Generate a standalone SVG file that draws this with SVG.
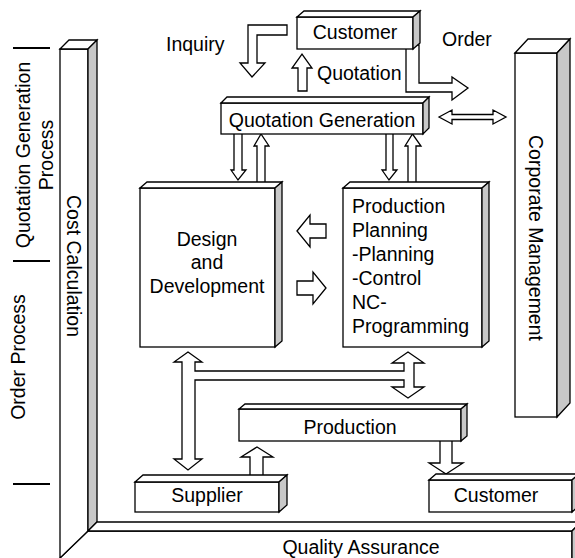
<svg xmlns="http://www.w3.org/2000/svg" width="575" height="558" viewBox="0 0 575 558">
<style>
.f{fill:#fff;stroke:#000;stroke-width:1.3;stroke-linejoin:miter}
.s{fill:#c8c8c8;stroke:#000;stroke-width:1.3;stroke-linejoin:miter}
.a{fill:#fff;stroke:#000;stroke-width:1.3;stroke-linejoin:miter}
.t{font-family:"Liberation Sans",Arial,sans-serif;font-size:19.5px;fill:#000}
.m{text-anchor:middle}
.k{stroke:#000;stroke-width:2}
</style>
<rect width="575" height="558" fill="#fff"/>
<g id="frame">
<polygon class="f" points="60,558 88,531 572,531 572,566 60,566"/>
<polygon class="f" points="60,49 88,49 88,531 60,558"/>
<polygon class="f" points="60,49 69,40 97,40 88,49"/>
<polygon class="s" points="88,49 97,40 97,522 88,531"/>
<polygon class="f" points="88,531 97,522 581,522 572,531"/>
<polygon class="s" points="572,531 581,522 581,566 572,566"/>
<text class="t m" transform="translate(67,266) rotate(90)">Cost Calculation</text>
<text class="t m" x="361" y="554">Quality Assurance</text>
</g>
<g id="labels">
<line class="k" x1="13" y1="48" x2="50" y2="48"/>
<line class="k" x1="13" y1="261" x2="50" y2="261"/>
<line class="k" x1="13" y1="484" x2="50" y2="484"/>
<text class="t m" transform="translate(30,155) rotate(-90)">Quotation Generation</text>
<text class="t m" transform="translate(53,155) rotate(-90)">Process</text>
<text class="t m" transform="translate(25,357) rotate(-90)">Order Process</text>
</g>
<g id="connectors">
<polygon class="a" points="287,25 248,25 248,63 240,63 252,77 265,63 257,63 257,35 287,35"/>
<polygon class="a" points="298,91 298,68 292,68 302,54 312,68 307,68 307,91"/>
<polygon class="a" points="406,45 406,92 452,92 452,100 468,88 452,77 452,83 419,83 419,45"/>
<polygon class="a" points="439,117 452,110 452,114.5 493,114.5 493,110 506,117 493,124 493,119.5 452,119.5 452,124"/>
<polygon class="a" points="234,130 234,170 231,170 238,180 246,170 242,170 242,130"/>
<polygon class="a" points="257,188 257,146 254,146 261,134 269,146 265,146 265,188"/>
<polygon class="a" points="386,130 386,170 382,170 389,180 397,170 393,170 393,130"/>
<polygon class="a" points="408,188 408,146 405,146 412.5,134 421,146 416,146 416,188"/>
<polygon class="a" points="297,231 310,215 310,224 326,224 326,238 310,238 310,247"/>
<polygon class="a" points="297,281 313,281 313,272 326,288 313,304 313,295 297,295"/>
<polygon class="a" points="188,352 202,362 195,362 195,371 404,371 404,363 392,363 408,352 424,363 414,363 414,387 424,387 408,398 392,387 404,387 404,380 195,380 195,459 202,459 188,470 174,459 182,459 182,362 174,362"/>
<polygon class="a" points="250,480 250,457 241,457 257,447 273,457 263,457 263,480"/>
<polygon class="a" points="440,436 440,463 429,463 446,474 463,463 452,463 452,436"/>
<text class="t" x="166" y="51">Inquiry</text>
<text class="t" x="317" y="80">Quotation</text>
<text class="t" x="442" y="46">Order</text>
</g>
<g id="customer-top">
<rect class="f" x="297" y="17" width="116" height="32"/>
<polygon class="f" points="297,17 304,11 420,11 413,17"/>
<polygon class="s" points="413,17 420,11 420,43 413,49"/>
<text class="t m" x="355" y="39">Customer</text>
</g>
<g id="quotation-generation">
<rect class="f" x="221" y="103" width="202" height="31"/>
<polygon class="f" points="221,103 227,97 429,97 423,103"/>
<polygon class="s" points="423,103 429,97 429,128 423,134"/>
<text class="t m" x="322" y="127">Quotation Generation</text>
</g>
<g id="design">
<rect class="f" x="140" y="188" width="135" height="159"/>
<polygon class="f" points="140,188 147,182 282,182 275,188"/>
<polygon class="s" points="275,188 282,182 282,341 275,347"/>
<text class="t m" x="207" y="246">Design</text>
<text class="t m" x="207" y="269">and</text>
<text class="t m" x="207" y="293">Development</text>
</g>
<g id="production-planning">
<rect class="f" x="343" y="188" width="139" height="159"/>
<polygon class="f" points="343,188 350,182 489,182 482,188"/>
<polygon class="s" points="482,188 489,182 489,341 482,347"/>
<text class="t" x="352" y="213">Production</text>
<text class="t" x="352" y="237">Planning</text>
<text class="t" x="352" y="261">-Planning</text>
<text class="t" x="352" y="285">-Control</text>
<text class="t" x="352" y="309">NC-</text>
<text class="t" x="352" y="333">Programming</text>
</g>
<g id="corporate-management">
<rect class="f" x="515" y="53" width="42" height="364"/>
<polygon class="f" points="515,53 528,39 570,39 557,53"/>
<polygon class="s" points="557,53 570,39 570,403 557,417"/>
<text class="t m" transform="translate(529,238) rotate(90)">Corporate Management</text>
</g>
<g id="production">
<rect class="f" x="239" y="409" width="222" height="32"/>
<polygon class="f" points="239,409 245,404 467,404 461,409"/>
<polygon class="s" points="461,409 467,404 467,436 461,441"/>
<text class="t m" x="350" y="434">Production</text>
</g>
<g id="supplier">
<rect class="f" x="135" y="482" width="144" height="30"/>
<polygon class="f" points="135,482 143,475 287,475 279,482"/>
<polygon class="s" points="279,482 287,475 287,505 279,512"/>
<text class="t m" x="207" y="502">Supplier</text>
</g>
<g id="customer-bottom">
<rect class="f" x="429" y="480" width="143" height="32"/>
<polygon class="f" points="429,480 436,474 579,474 572,480"/>
<polygon class="s" points="572,480 579,474 579,506 572,512"/>
<text class="t m" x="496" y="502">Customer</text>
</g>
</svg>
